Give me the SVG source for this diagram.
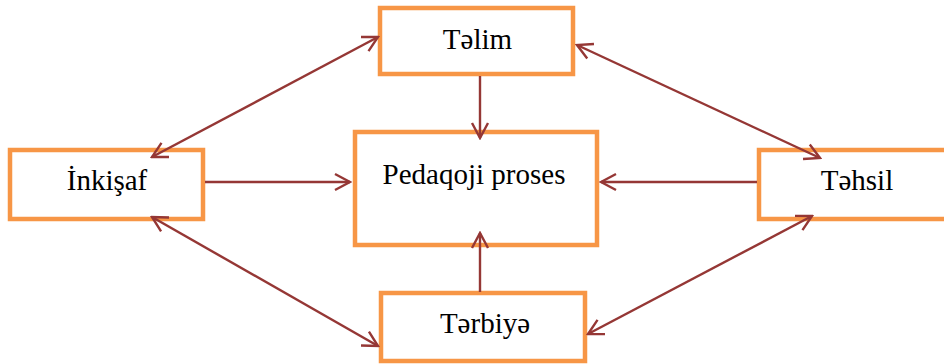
<svg xmlns="http://www.w3.org/2000/svg" width="944" height="364" viewBox="0 0 944 364">
<defs>
<marker id="ah" viewBox="0 0 20 20" refX="18" refY="10" markerWidth="20" markerHeight="20" markerUnits="userSpaceOnUse" orient="auto-start-reverse">
<path d="M3,2 L18,10 L3,18" fill="none" stroke="#953735" stroke-width="2.4"/>
</marker>
<style>
.box{fill:#fff;stroke:#F79646;stroke-width:4.5}
.lbl{font-family:"Liberation Serif","Times New Roman",serif;font-size:29px;fill:#000;text-anchor:middle}
.c{fill:none;stroke:#953735;stroke-width:2.4}
</style>
</defs>
<rect width="944" height="364" fill="#fff"/>
<g id="telim"><rect class="box" x="380" y="8" width="193" height="66"/><text class="lbl" x="477.5" y="49">Təlim</text></g>
<g id="pedaqoji"><rect class="box" x="355" y="132" width="242" height="113"/><text class="lbl" x="474" y="184">Pedaqoji proses</text></g>
<g id="inkisaf"><rect class="box" x="10" y="150" width="193" height="69"/><text class="lbl" x="107" y="190">İnkişaf</text></g>
<g id="tehsil"><rect class="box" x="759" y="150" width="200" height="69"/><text class="lbl" x="857" y="190">Təhsil</text></g>
<g id="terbiye"><rect class="box" x="381" y="293" width="204" height="68"/><text class="lbl" x="485" y="333">Tərbiyə</text></g>
<g id="connectors">
<line class="c" x1="480" y1="76" x2="480" y2="138" marker-end="url(#ah)"/>
<line class="c" x1="480" y1="292" x2="480" y2="233" marker-end="url(#ah)"/>
<line class="c" x1="205" y1="182" x2="350" y2="182" marker-end="url(#ah)"/>
<line class="c" x1="757" y1="182" x2="601" y2="182" marker-end="url(#ah)"/>
<line class="c" x1="152" y1="157" x2="378" y2="37" marker-start="url(#ah)" marker-end="url(#ah)"/>
<line class="c" x1="152" y1="217" x2="378" y2="346" marker-start="url(#ah)" marker-end="url(#ah)"/>
<line class="c" x1="577" y1="45" x2="820" y2="158" marker-start="url(#ah)" marker-end="url(#ah)"/>
<line class="c" x1="588" y1="334" x2="812" y2="216" marker-start="url(#ah)" marker-end="url(#ah)"/>
</g>
</svg>
